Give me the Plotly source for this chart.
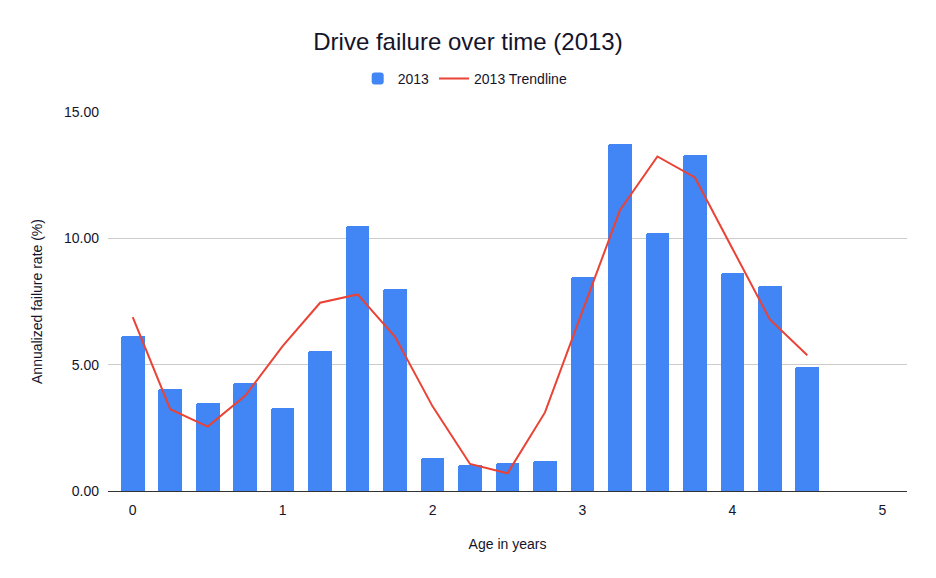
import plotly.graph_objects as go

ages = [0, 0.25, 0.5, 0.75, 1.0, 1.25, 1.5, 1.75, 2.0, 2.25, 2.5, 2.75,
        3.0, 3.25, 3.5, 3.75, 4.0, 4.25, 4.5]
failure_2013 = [6.12, 4.05, 3.48, 4.29, 3.29, 5.56, 10.48, 7.98, 1.31, 1.03,
                1.12, 1.19, 8.48, 13.73, 10.20, 13.29, 8.64, 8.11, 4.91]
trend_2013 = [6.88, 3.24, 2.55, 3.77, 5.73, 7.45, 7.78, 6.10, 3.35, 1.07,
              0.70, 3.11, 7.12, 11.11, 13.24, 12.41, 9.60, 6.79, 5.37]
x_ticks = [0, 1, 2, 3, 4, 5]
y_ticks = [0, 5, 10, 15]
y_tick_labels = ["0.00", "5.00", "10.00", "15.00"]

FONT = "Liberation Sans, Arial, sans-serif"
TXT = "#14142b"

fig = go.Figure()
fig.add_trace(go.Bar(
    x=ages, y=failure_2013, name="2013",
    marker=dict(color="#4285F4", line=dict(width=0)),
    width=0.158,
))
fig.add_trace(go.Scatter(
    x=ages, y=trend_2013, name="2013 Trendline", mode="lines",
    line=dict(color="#EA4335", width=2),
))

H = 578
fig.update_layout(
    width=936, height=H,
    margin=dict(l=108, r=29, t=112, b=87, autoexpand=False),
    paper_bgcolor="white", plot_bgcolor="white",
    barcornerradius=2,
    font=dict(family=FONT, color=TXT, size=14),
    title=dict(text="Drive failure over time (2013)", x=0.5, xanchor="center",
               xref="container", yref="container",
               y=1 - 42/H, yanchor="middle", font=dict(size=24, color=TXT, family=FONT)),
    legend=dict(orientation="h", x=0.497, xanchor="center", xref="container", yref="container",
                y=1 - 79/H, yanchor="middle", font=dict(size=14, color=TXT),
                itemwidth=30, traceorder="normal"),
    xaxis=dict(
        automargin=False,
        range=[-0.165, 5.165], tickvals=x_ticks, ticktext=[str(t) for t in x_ticks],
        showgrid=False, zeroline=False, showline=True, linecolor="#333333", linewidth=1,
        ticks="", tickfont=dict(size=14, color=TXT), ticklabelstandoff=6,
        title=dict(text="Age in years", font=dict(size=14, color=TXT), standoff=22),
    ),
    yaxis=dict(
        automargin=False,
        range=[0, 15], tickvals=y_ticks, ticktext=y_tick_labels,
        showgrid=True, gridcolor="#cccccc", gridwidth=1, zeroline=False,
        showline=False, ticks="", tickfont=dict(size=14, color=TXT), ticklabelstandoff=8,
        title=dict(text="Annualized failure rate (%)", font=dict(size=14, color=TXT), standoff=18),
    ),
    bargap=0,
)

fig.write_html("out.html", config={"displayModeBar": False},
               post_script="document.body.style.margin='0';document.body.style.overflow='hidden';")
